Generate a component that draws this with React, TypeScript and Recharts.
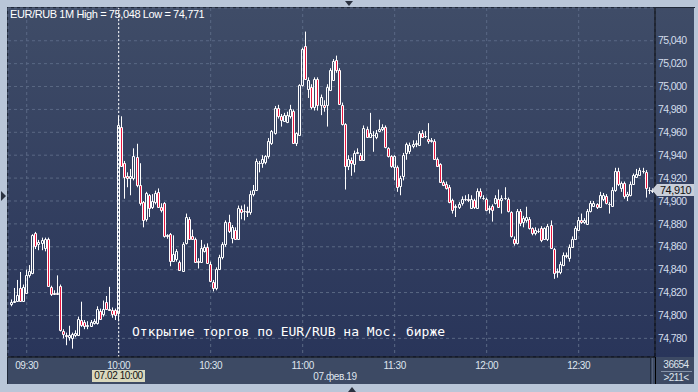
import { Bar, CartesianGrid, ComposedChart, ReferenceLine, XAxis, YAxis } from "recharts";

// EUR/RUB, 1-minute candles, 07 Feb 2019. Minute 0 = 09:30.
const START_MINUTE = -5;

const opens = [
  74.810, 74.812, 74.813, 74.824, 74.813, 74.820, 74.835, 74.837, 74.872, 74.862,
  74.863, 74.859, 74.867, 74.825, 74.820, 74.819, 74.826, 74.786, 74.783, 74.781,
  74.780, 74.783, 74.783, 74.796, 74.794, 74.791, 74.791, 74.793, 74.793, 74.804,
  74.801, 74.812, 74.806, 74.805, 74.805, 74.802, 74.965, 74.933, 74.922, 74.920,
  74.920, 74.938, 74.914, 74.899, 74.884, 74.905, 74.895, 74.899, 74.908, 74.895,
  74.898, 74.869, 74.871, 74.848, 74.849, 74.847, 74.839, 74.863, 74.884, 74.869,
  74.867, 74.848, 74.847, 74.856, 74.860, 74.845, 74.829, 74.824, 74.841, 74.851,
  74.862, 74.882, 74.868, 74.875, 74.867, 74.893, 74.891, 74.891, 74.890, 74.906,
  74.910, 74.933, 74.933, 74.934, 74.939, 74.951, 74.959, 74.981, 74.974, 74.970,
  74.969, 74.974, 74.979, 74.951, 74.958, 75.001, 75.035, 74.998, 75.000, 74.982,
  75.007, 74.984, 74.984, 74.984, 74.997, 75.006, 75.023, 75.014, 74.984, 74.967,
  74.931, 74.936, 74.932, 74.942, 74.940, 74.936, 74.963, 74.956, 74.958, 74.956,
  74.961, 74.963, 74.965, 74.946, 74.939, 74.930, 74.930, 74.913, 74.922, 74.942,
  74.944, 74.948, 74.950, 74.949, 74.959, 74.957, 74.954, 74.952, 74.952, 74.937,
  74.932, 74.917, 74.915, 74.912, 74.901, 74.896, 74.895, 74.898, 74.902, 74.902,
  74.894, 74.901, 74.894, 74.909, 74.903, 74.902, 74.893, 74.896, 74.898, 74.902,
  74.901, 74.903, 74.902, 74.890, 74.867, 74.863, 74.891, 74.882, 74.883, 74.884,
  74.876, 74.872, 74.874, 74.876, 74.867, 74.867, 74.879, 74.858, 74.838, 74.838,
  74.844, 74.852, 74.850, 74.860, 74.867, 74.875, 74.883, 74.882, 74.880, 74.891,
  74.896, 74.897, 74.895, 74.902, 74.904, 74.897, 74.896, 74.910, 74.926, 74.911,
  74.916, 74.904, 74.905, 74.915, 74.921, 74.923, 74.926, 74.925, 74.910, 74.909,
];

const highs = [
  74.814, 74.824, 74.831, 74.838, 74.827, 74.840, 74.844, 74.871, 74.873, 74.866,
  74.868, 74.868, 74.868, 74.826, 74.822, 74.835, 74.827, 74.788, 74.785, 74.791,
  74.785, 74.787, 74.799, 74.812, 74.796, 74.795, 74.796, 74.797, 74.808, 74.806,
  74.813, 74.817, 74.825, 74.807, 74.806, 74.974, 74.974, 74.935, 74.925, 74.928,
  74.946, 74.950, 74.933, 74.900, 74.908, 74.906, 74.906, 74.909, 74.911, 74.898,
  74.899, 74.871, 74.872, 74.870, 74.858, 74.848, 74.864, 74.889, 74.886, 74.875,
  74.868, 74.850, 74.866, 74.862, 74.863, 74.847, 74.831, 74.842, 74.853, 74.864,
  74.883, 74.888, 74.879, 74.877, 74.896, 74.896, 74.897, 74.895, 74.909, 74.914,
  74.937, 74.935, 74.940, 74.940, 74.955, 74.962, 74.983, 74.984, 74.976, 74.977,
  74.978, 74.984, 74.980, 74.960, 75.002, 75.034, 75.048, 75.008, 75.002, 75.008,
  75.008, 74.993, 74.988, 75.002, 75.016, 75.024, 75.027, 75.016, 74.986, 74.968,
  74.940, 74.938, 74.944, 74.946, 74.942, 74.966, 74.965, 74.977, 74.961, 74.962,
  74.971, 74.967, 74.966, 74.947, 74.940, 74.940, 74.931, 74.922, 74.942, 74.951,
  74.951, 74.953, 74.953, 74.961, 74.962, 74.961, 74.968, 74.955, 74.954, 74.938,
  74.933, 74.918, 74.917, 74.914, 74.902, 74.897, 74.899, 74.904, 74.905, 74.906,
  74.905, 74.902, 74.911, 74.911, 74.905, 74.903, 74.896, 74.897, 74.905, 74.910,
  74.905, 74.912, 74.903, 74.891, 74.869, 74.893, 74.893, 74.887, 74.895, 74.886,
  74.877, 74.877, 74.876, 74.878, 74.877, 74.880, 74.883, 74.859, 74.841, 74.847,
  74.855, 74.855, 74.862, 74.869, 74.878, 74.886, 74.889, 74.885, 74.893, 74.900,
  74.900, 74.898, 74.908, 74.907, 74.906, 74.899, 74.912, 74.929, 74.929, 74.917,
  74.917, 74.908, 74.917, 74.924, 74.928, 74.929, 74.929, 74.927, 74.912, 74.911,
];

const lows = [
  74.808, 74.811, 74.812, 74.812, 74.812, 74.819, 74.833, 74.836, 74.858, 74.857,
  74.857, 74.856, 74.825, 74.817, 74.818, 74.818, 74.786, 74.780, 74.774, 74.778,
  74.771, 74.781, 74.782, 74.790, 74.788, 74.788, 74.790, 74.792, 74.792, 74.796,
  74.799, 74.805, 74.804, 74.798, 74.796, 74.795, 74.930, 74.902, 74.912, 74.905,
  74.918, 74.912, 74.896, 74.877, 74.882, 74.886, 74.893, 74.897, 74.894, 74.890,
  74.868, 74.867, 74.843, 74.847, 74.847, 74.839, 74.838, 74.862, 74.866, 74.866,
  74.846, 74.841, 74.846, 74.855, 74.845, 74.829, 74.821, 74.822, 74.840, 74.849,
  74.860, 74.872, 74.863, 74.866, 74.866, 74.884, 74.883, 74.886, 74.888, 74.904,
  74.909, 74.925, 74.929, 74.932, 74.937, 74.949, 74.958, 74.972, 74.965, 74.969,
  74.968, 74.972, 74.950, 74.948, 74.957, 75.000, 75.006, 74.990, 74.980, 74.979,
  74.979, 74.975, 74.978, 74.965, 74.996, 75.005, 75.012, 74.984, 74.966, 74.910,
  74.927, 74.922, 74.925, 74.941, 74.935, 74.935, 74.955, 74.955, 74.943, 74.954,
  74.960, 74.961, 74.946, 74.938, 74.929, 74.918, 74.908, 74.905, 74.918, 74.936,
  74.941, 74.946, 74.947, 74.948, 74.955, 74.955, 74.950, 74.951, 74.936, 74.930,
  74.916, 74.913, 74.910, 74.898, 74.889, 74.886, 74.893, 74.896, 74.900, 74.899,
  74.893, 74.893, 74.893, 74.902, 74.901, 74.891, 74.889, 74.882, 74.897, 74.894,
  74.889, 74.901, 74.890, 74.868, 74.861, 74.862, 74.878, 74.877, 74.881, 74.875,
  74.870, 74.870, 74.872, 74.864, 74.866, 74.865, 74.858, 74.832, 74.833, 74.836,
  74.843, 74.850, 74.847, 74.859, 74.866, 74.874, 74.880, 74.880, 74.879, 74.890,
  74.895, 74.893, 74.894, 74.900, 74.897, 74.889, 74.895, 74.908, 74.913, 74.908,
  74.902, 74.900, 74.904, 74.914, 74.920, 74.922, 74.924, 74.903, 74.906, 74.907,
];

const closes = [
  74.812, 74.813, 74.818, 74.813, 74.825, 74.835, 74.839, 74.870, 74.861, 74.864,
  74.866, 74.867, 74.826, 74.819, 74.819, 74.820, 74.787, 74.784, 74.782, 74.783,
  74.784, 74.785, 74.797, 74.792, 74.791, 74.792, 74.794, 74.795, 74.806, 74.797,
  74.806, 74.806, 74.805, 74.801, 74.800, 74.966, 74.931, 74.921, 74.920, 74.922,
  74.939, 74.914, 74.898, 74.883, 74.907, 74.894, 74.900, 74.907, 74.895, 74.892,
  74.869, 74.870, 74.848, 74.854, 74.856, 74.840, 74.862, 74.886, 74.867, 74.867,
  74.847, 74.847, 74.859, 74.860, 74.846, 74.830, 74.824, 74.841, 74.851, 74.862,
  74.882, 74.874, 74.877, 74.867, 74.894, 74.890, 74.891, 74.890, 74.906, 74.910,
  74.935, 74.933, 74.937, 74.939, 74.952, 74.961, 74.981, 74.974, 74.971, 74.975,
  74.975, 74.980, 74.951, 74.959, 75.001, 75.033, 75.007, 75.006, 74.982, 75.007,
  74.984, 74.991, 74.982, 75.000, 75.014, 75.022, 75.014, 74.985, 74.967, 74.931,
  74.937, 74.933, 74.942, 74.943, 74.936, 74.964, 74.956, 74.959, 74.958, 74.959,
  74.963, 74.965, 74.947, 74.939, 74.931, 74.939, 74.912, 74.920, 74.940, 74.950,
  74.949, 74.950, 74.951, 74.959, 74.956, 74.957, 74.952, 74.953, 74.937, 74.931,
  74.917, 74.914, 74.911, 74.899, 74.892, 74.895, 74.897, 74.902, 74.902, 74.901,
  74.902, 74.895, 74.909, 74.904, 74.903, 74.892, 74.894, 74.892, 74.903, 74.895,
  74.903, 74.903, 74.891, 74.869, 74.863, 74.891, 74.881, 74.885, 74.886, 74.876,
  74.872, 74.875, 74.874, 74.866, 74.876, 74.878, 74.859, 74.837, 74.839, 74.845,
  74.853, 74.853, 74.860, 74.867, 74.876, 74.883, 74.882, 74.883, 74.891, 74.898,
  74.898, 74.895, 74.905, 74.905, 74.898, 74.897, 74.910, 74.926, 74.915, 74.916,
  74.904, 74.906, 74.915, 74.923, 74.924, 74.927, 74.926, 74.911, 74.910, 74.910,
];

const xTicks = [0, 30, 60, 90, 120, 150, 180];
const xTickLabels = ["09:30", "10:00", "10:30", "11:00", "11:30", "12:00", "12:30"];
const yTicks = [
  74.78, 74.8, 74.82, 74.84, 74.86, 74.88, 74.9, 74.92, 74.94, 74.96, 74.98, 75.0, 75.02, 75.04,
];
const lastPrice = 74.91;
const marketOpenMinute = 30;

const candles = opens.map((open, i) => ({
  t: START_MINUTE + i,
  open,
  high: highs[i],
  low: lows[i],
  close: closes[i],
  range: [lows[i], highs[i]],
}));

const FONT = '"Liberation Sans", Arial, sans-serif';
const RED = "#e8173f";

const fmtPrice = (v: number) => v.toFixed(3).replace(".", ",");

function Candle(props: any) {
  const { x, y, width, height, payload } = props;
  if (x == null || !payload) return null;
  const top = Math.min(y, y + height);
  const k = Math.abs(height) / (payload.high - payload.low);
  const py = (v: number) => top + (payload.high - v) * k;
  const cx = Math.floor(x + width / 2) + 0.5;
  const yo = py(payload.open);
  const yc = py(payload.close);
  const bt = Math.round(Math.min(yo, yc)) + 0.5;
  const bb = Math.round(Math.max(yo, yc)) + 0.5;
  const down = payload.close < payload.open;
  return (
    <g>
      <line x1={cx} x2={cx} y1={py(payload.high)} y2={bt} stroke="#fff" />
      <line x1={cx} x2={cx} y1={bb} y2={py(payload.low)} stroke="#fff" />
      <path
        d={`M${cx - 1} ${bt}H${cx + 1}V${bb}H${cx - 1}Z`}
        fill={down ? RED : "none"}
        stroke="#fff"
      />
    </g>
  );
}

const abs = (left: number, top: number, w: number, h: number, extra: any = {}) => ({
  position: "absolute" as const,
  left,
  top,
  width: w,
  height: h,
  ...extra,
});

export default function App() {
  return (
    <div style={{ position: "relative", width: 698, height: 392, background: "#b9c6d8", overflow: "hidden", fontFamily: FONT }}>
      <style>{"body{margin:0}"}</style>
      {/* panels */}
      <div style={abs(8, 8, 686, 349, { background: "linear-gradient(#3f4c67, #29355a)" })} />
      <div style={abs(8, 357, 686, 27, { background: "#3d4a64" })} />
      <div style={abs(7, 7, 1, 377, { background: "#1f2838" })} />
      <div style={abs(7, 7, 688, 1, { background: "#1f2838" })} />
      <div style={abs(650, 358, 1, 26, { background: "#222c3e" })} />
      <div style={abs(652, 358, 1, 26, { background: "#56627a" })} />
      <div style={abs(655, 357, 1, 27, { background: "#000" })} />
      <div style={abs(661, 371, 31, 1, { background: "#8592a8" })} />

      <div style={{ position: "absolute", left: 0, top: 0 }}>
        <ComposedChart width={698} height={392} data={candles} margin={{ top: 8, right: 4, bottom: 8, left: 8 }}>
          <CartesianGrid stroke="#5a6884" strokeDasharray="3 3" />
          <XAxis
            dataKey="t"
            type="number"
            domain={[-6.1, 204.9]}
            allowDataOverflow
            ticks={xTicks}
            interval={0}
            tickFormatter={(v: number) => xTickLabels[xTicks.indexOf(v)] ?? ""}
            height={27}
            axisLine={{ stroke: "#000" }}
            tickLine={false}
            tickSize={0}
            tickMargin={5}
            tick={{ fill: "#dfe5ee", fontSize: 10, fontFamily: FONT, letterSpacing: -0.4 }}
          />
          <YAxis
            orientation="right"
            type="number"
            domain={[74.7637, 75.0686]}
            allowDataOverflow
            ticks={yTicks}
            interval={0}
            tickFormatter={fmtPrice}
            width={39}
            axisLine={{ stroke: "#000" }}
            tickLine={false}
            tickSize={0}
            tickMargin={3}
            tick={{ fill: "#d3ddeb", fontSize: 10.5, fontFamily: FONT, letterSpacing: -0.6 }}
          />
          <Bar dataKey="range" barSize={3} isAnimationActive={false} shape={(p: any) => <Candle {...p} />} />
          <ReferenceLine x={marketOpenMinute} stroke="#ffffff" strokeDasharray="2 2" />
        </ComposedChart>
      </div>

      {/* texts */}
      <div style={abs(10, 8, 260, 13, { color: "#fff", fontSize: 11, letterSpacing: -0.4, lineHeight: "13px", whiteSpace: "nowrap" })}>
        EUR/RUB 1M High = 75,048 Low = 74,771
      </div>
      <div
        style={abs(132, 323, 340, 17, {
          color: "#fff",
          fontSize: 13,
          fontFamily: '"DejaVu Sans Mono", monospace',
          lineHeight: "17px",
          whiteSpace: "nowrap",
        })}
      >
        Открытие торгов по EUR/RUB на Мос. бирже
      </div>
      <div style={abs(92, 370, 53, 12, { background: "#d9d8bd", color: "#111", fontSize: 10, letterSpacing: -0.4, lineHeight: "12px", textAlign: "center" })}>
        07.02 10:00
      </div>
      <div style={abs(300, 371, 70, 12, { color: "#dfe5ee", fontSize: 10, letterSpacing: -0.4, lineHeight: "12px", textAlign: "center" })}>
        07.фев.19
      </div>
      <div style={abs(657, 359, 38, 12, { color: "#dfe5ee", fontSize: 10, letterSpacing: -0.5, lineHeight: "12px", textAlign: "center" })}>
        36654
      </div>
      <div style={abs(657, 372, 38, 12, { color: "#dfe5ee", fontSize: 10, letterSpacing: -0.5, lineHeight: "12px", textAlign: "center" })}>
        &gt;211&lt;
      </div>
      {/* last price marker */}
      <div
        style={abs(652, 184, 0, 0, {
          borderTop: "6px solid transparent",
          borderBottom: "6px solid transparent",
          borderRight: "5px solid #c9ced8",
        })}
      />
      <div style={abs(657, 184, 37, 12, { background: "#c9ced8", color: "#111", fontSize: 11, letterSpacing: -0.4, lineHeight: "12px", textAlign: "center" })}>
        {fmtPrice(lastPrice)}
      </div>
      {/* frame arrows */}
      <div style={abs(345, 1, 0, 0, { borderLeft: "4px solid transparent", borderRight: "4px solid transparent", borderTop: "5px solid #2a3140" })} />
      <div style={abs(348, 387, 0, 0, { borderLeft: "4px solid transparent", borderRight: "4px solid transparent", borderBottom: "5px solid #2a3140" })} />
      <div style={abs(1, 191, 0, 0, { borderTop: "5px solid transparent", borderBottom: "5px solid transparent", borderLeft: "5px solid #2a3140" })} />
    </div>
  );
}
